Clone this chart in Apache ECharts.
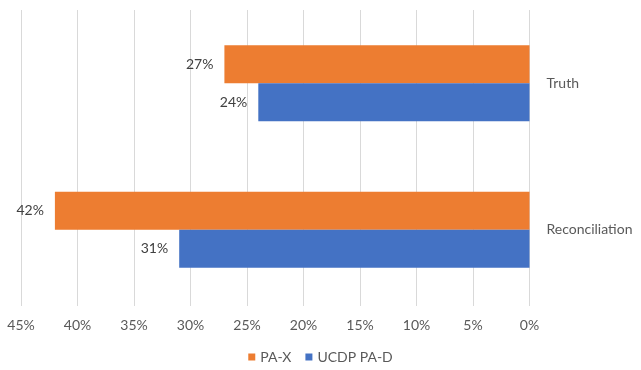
<!DOCTYPE html>
<html>
<head>
<meta charset="utf-8">
<script src="https://cdn.jsdelivr.net/npm/echarts@6/dist/echarts.min.js"></script>
<style>
  html, body { margin: 0; padding: 0; background: #fff; }
  #chart { width: 641px; height: 370px; }
</style>
</head>
<body>
<div id="chart"></div>
<script>
const categories = ['Truth', 'Reconciliation']
const paX = [0.27, 0.42]
const ucdpPaD = [0.24, 0.31]

const font = 'Lato, "Open Sans", sans-serif'
const pct = v => Math.round(v * 100) + '%'

const chart = echarts.init(document.getElementById('chart'))
const option = {
  animation: false,
  textStyle: { fontFamily: font },
  grid: {
    left: 21,
    right: 111.5,
    top: 10,
    bottom: 67,
  },
  legend: {
    bottom: 1,
    left: 'center',
    itemWidth: 7,
    itemHeight: 7,
    itemGap: 14,
    icon: 'rect',
    textStyle: { fontSize: 14, color: '#595959', fontFamily: font },
    data: ['PA-X', 'UCDP PA-D'],
  },
  xAxis: {
    type: 'value',
    inverse: true,
    min: 0,
    max: 0.45,
    interval: 0.05,
    axisLine: { show: false },
    axisTick: {
      show: true,
      length: 3,
      lineStyle: { color: '#D9D9D9' },
    },
    splitLine: { lineStyle: { color: '#D9D9D9', width: 1 } },
    axisLabel: {
      formatter: v => pct(v),
      color: '#595959',
      fontSize: 14,
      margin: 15,
      fontFamily: font,
    },
  },
  yAxis: {
    type: 'category',
    position: 'right',
    inverse: true,
    data: categories,
    axisLine: { show: false },
    axisTick: { show: false },
    axisLabel: {
      color: '#595959',
      fontSize: 14,
      margin: 17,
      fontFamily: font,
    },
  },
  series: [
    {
      name: 'PA-X',
      type: 'bar',
      data: paX,
      barWidth: 38,
      barGap: '0%',
      itemStyle: { color: '#ED7D31' },
      label: {
        show: true,
        position: 'left',
        distance: 11,
        formatter: p => pct(p.value),
        color: '#404040',
        fontSize: 14,
        fontFamily: font,
      },
    },
    {
      name: 'UCDP PA-D',
      type: 'bar',
      data: ucdpPaD,
      barWidth: 38,
      barGap: '0%',
      itemStyle: { color: '#4472C4' },
      label: {
        show: true,
        position: 'left',
        distance: 11,
        formatter: p => pct(p.value),
        color: '#404040',
        fontSize: 14,
        fontFamily: font,
      },
    },
  ],
}
chart.setOption(option)
</script>
</body>
</html>
